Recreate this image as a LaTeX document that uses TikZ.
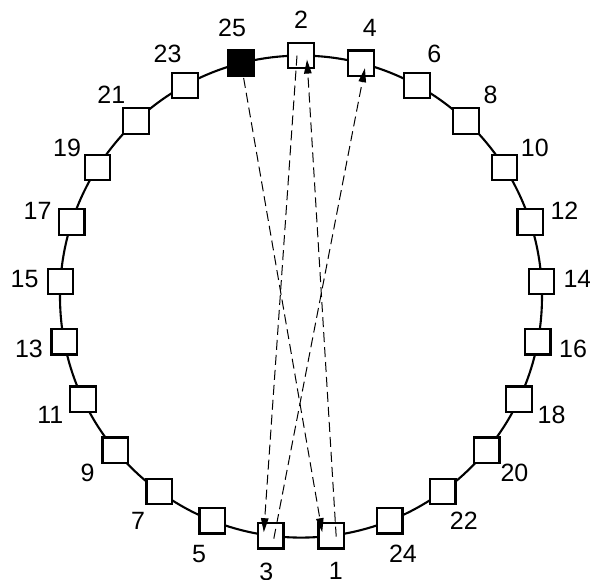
\documentclass[tikz,border=0pt]{standalone}
\usepackage{fontspec}
\setmainfont{Liberation Sans}
\usetikzlibrary{arrows.meta}
\begin{document}
\begin{tikzpicture}[x=1pt,y=1pt,
  box/.style={draw=black,line width=2.2pt,fill=white,minimum size=25.5pt,inner sep=0pt},
  darkbox/.style={box,fill=black},
  lab/.style={inner sep=0pt,font=\fontsize{25}{28}\selectfont},
  ring/.style={line width=2.1pt},
  arr/.style={line width=1pt,dash pattern=on 10pt off 5pt,-{Triangle[length=14pt,width=7.5pt]}}]
\useasboundingbox (0,0) rectangle (590,580);
\coordinate (O) at (301,283.4);
\draw[ring] (O) circle (241);
\foreach \n [count=\i from 0] in {2,4,6,8,10,12,14,16,18,20,22,24,1,3,5,7,9,11,13,15,17,19,21,23,25}{
  \pgfmathsetmacro{\a}{90-14.4*\i}
  \ifnum\n=25
    \node[darkbox] (b\n) at ([shift={(\a:241)}]O) {};
  \else
    \node[box] (b\n) at ([shift={(\a:241)}]O) {};
  \fi
  \node[lab] (l\n) at ([shift={(\a:277)}]O) {\n};
}
\draw[arr] (b25.center) -- ([shift={(-9,3.5)}]b1.center);
\draw[arr] ([shift={(-4,0)}]b2.center) -- ([shift={(-7,3.5)}]b3.center);
\draw[arr] ([shift={(3,-3)}]b3.center) -- ([shift={(4,-5)}]b4.center);
\draw[arr] ([shift={(5,-1)}]b1.center) -- ([shift={(6,-4)}]b2.center);
\end{tikzpicture}
\end{document}
